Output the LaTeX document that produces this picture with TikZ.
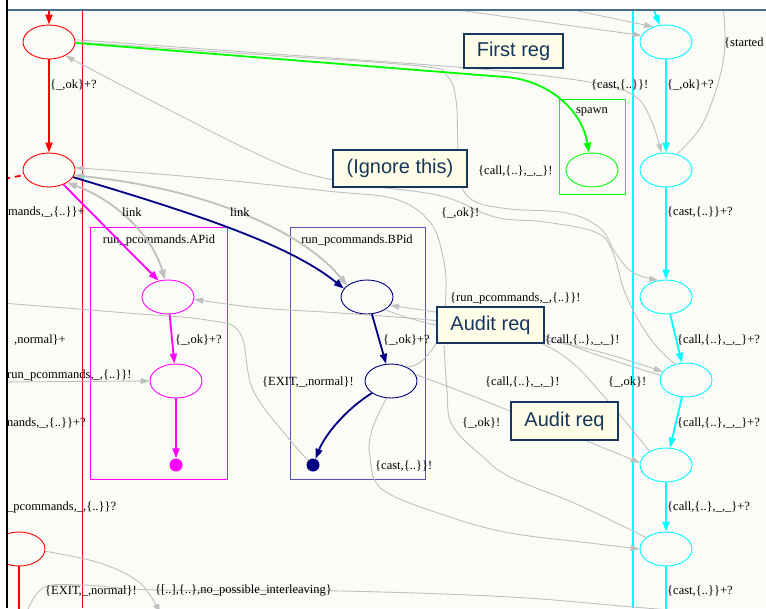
\documentclass[tikz,border=0pt]{standalone}
\usepackage{fontspec}
\setmainfont{Liberation Serif}
\newfontfamily\notefont{Liberation Sans}
\usetikzlibrary{shapes.geometric,arrows.meta}
\definecolor{gvgray}{RGB}{192,192,192}
\definecolor{gvnavy}{RGB}{0,0,128}
\definecolor{boxnavy}{RGB}{84,84,176}
\definecolor{gvgreen}{RGB}{0,255,0}
\definecolor{gvcyan}{RGB}{0,255,255}
\definecolor{gvmagenta}{RGB}{255,0,255}
\definecolor{gvred}{RGB}{255,0,0}
\definecolor{panel}{RGB}{251,252,248}
\definecolor{topline}{RGB}{78,108,140}
\definecolor{notefill}{RGB}{253,253,232}
\definecolor{noteink}{RGB}{22,54,92}
\tikzset{
  state/.style={ellipse, draw, line width=0.9pt, minimum width=52pt, minimum height=34pt, inner sep=0pt},
  enddot/.style={circle, fill, inner sep=0pt, minimum size=13pt},
  flow/.style={line width=1.8pt, -{Triangle[length=10pt,width=7pt]}},
  msg/.style={gvgray, line width=0.9pt, -{Triangle[length=9pt,width=6pt]}},
  msgline/.style={gvgray, line width=0.9pt},
  linkmsg/.style={gvgray, line width=1.8pt, {Triangle[length=10pt,width=7pt]}-{Triangle[length=10pt,width=7pt]}},
  lbl/.style={font=\fontsize{12.5}{14}\selectfont, inner sep=0pt, anchor=west},
  note/.style={draw=noteink, line width=1.2pt, fill=notefill, text=noteink,
    font=\notefont\fontsize{20}{24}\selectfont, inner sep=0pt},
  smoothpath/.style={smooth, tension=0.6},
}
\begin{document}
\begin{tikzpicture}[x=1pt,y=-1pt]
\fill[white] (0,0) rectangle (766,608);
\useasboundingbox (0,0) rectangle (766,608);

\begin{scope}
\clip (6,10) rectangle (766,608);
\fill[panel] (6,10) rectangle (766,608);

% swimlanes
\draw[gvred, line width=1pt] (82,10) -- (82,608);
\draw[gvcyan, line width=1.6pt] (633,10) -- (633,608);

% clusters
\draw[gvgreen, line width=0.9pt] (559,99) rectangle (625,194);
\node[lbl, anchor=center] at (592,112) {spawn};
\draw[gvmagenta, line width=0.9pt] (90,227) rectangle (227,479);
\node[lbl, anchor=center] at (159,240) {run\_pcommands.APid};
\draw[boxnavy, line width=1pt] (290,227) rectangle (425,479);
\node[lbl, anchor=center] at (357,240) {run\_pcommands.BPid};

% states
\node[state, draw=gvred] (r1) at (49,42) {};
\node[state, draw=gvred] (r2) at (49,170) {};
\node[state, draw=gvred] (r3) at (19,549) {};
\node[state, draw=gvgreen] (g1) at (592,170) {};
\node[state, draw=gvcyan] (c1) at (666,42) {};
\node[state, draw=gvcyan] (c2) at (666,170) {};
\node[state, draw=gvcyan] (c3) at (666,297) {};
\node[state, draw=gvcyan] (c4) at (686,380) {};
\node[state, draw=gvcyan] (c5) at (666,465) {};
\node[state, draw=gvcyan] (c6) at (666,549) {};
\node[state, draw=gvmagenta] (m1) at (168,297) {};
\node[state, draw=gvmagenta] (m2) at (176,381) {};
\node[enddot, fill=gvmagenta] (mdot) at (176,465) {};
\node[state, draw=gvnavy] (n1) at (367,297) {};
\node[state, draw=gvnavy] (n2) at (391,381) {};
\node[enddot, fill=gvnavy] (ndot) at (313,465) {};

% free ends
\coordinate (rtop) at (49,10);
\coordinate (ctop) at (654,10);
\coordinate (rdash) at (4,179);
\coordinate (rbot) at (19,612);
\coordinate (cbot) at (666,612);
\coordinate (topA) at (457,10);
\coordinate (topB) at (573,10);
\coordinate (topC) at (723,6);
\coordinate (leftA) at (2,303);
\coordinate (leftB) at (2,382);
\coordinate (botA) at (160,613);
\coordinate (botB) at (25,616);
\coordinate (botC) at (720,614);

% message edges
\draw[msg] (topA) -- (c1.165);
\draw[msg] (topB) -- (c1.130);
\draw[msg] plot[smoothpath] coordinates {(r1.5) (260,53) (430,65) (520,73) (600,84) (636,97) (652,122) (c2.105)};
\draw[msg] plot[smoothpath] coordinates {(r1.0) (250,54) (420,66) (447,76) (456,100) (458,150) (461,185) (476,202) (510,209) (567,213) (600,228) (615,252) (632,272) (c3.115)};
\draw[msg] plot[smoothpath] coordinates {(c4.125) (657,347) (640,323) (624,290) (612,250) (595,232) (545,222) (505,219) (483,213) (437,195) (333,180) (255,153) (r1.-40)};
\draw[msgline] plot[smoothpath] coordinates {(c2.55) (702,125) (719,80) (725,43) (topC)};
\draw[msg] plot[smoothpath] coordinates {(n2.40) (423,360) (441,333) (446,290) (443,257) (430,222) (395,199) (327,191) (193,177) (r2.5)};
\draw[msgline] plot[smoothpath] coordinates {(c6.150) (600,515) (567,500) (510,477) (483,457) (452,425) (447,390) (444,345)};
\draw[msg] plot[smoothpath] coordinates {(c4.170) (600,356) (547,337) (470,318) (n1.-20)};
\draw[msg] plot[smoothpath] coordinates {(n1.-35) (440,326) (547,341) (600,352) (c4.160)};
\draw[msg] plot[smoothpath] coordinates {(c5.140) (620,415) (600,392) (575,365) (545,345) (500,329) (430,320) (340,313) (260,308) (m1.-5)};
\draw[msg] plot[smoothpath] coordinates {(n2.15) (470,395) (520,415) (567,433) (c5.175)};
\draw[msg] plot[smoothpath] coordinates {(n2.-105) (372,430) (370,457) (383,490) (450,517) (510,533) (590,543) (c6.180)};
\draw[msgline] plot[smoothpath] coordinates {(ndot.135) (290,440) (253,390) (240,333) (207,320) (127,313) (leftA)};
\draw[msg] (leftB) -- (m2.180);
\draw[msg] plot[smoothpath] coordinates {(r3.-5) (100,563) (140,583) (botA)};
\draw[msgline] plot[smoothpath] coordinates {(botB) (43,588) (83,585) (157,590) (340,591) (510,597) (633,607) (botC)};

% link edges
\draw[linkmsg] (r2.-35) .. controls (115,200) and (152,235) .. (m1.100);
\draw[linkmsg] (r2.-12) .. controls (200,188) and (300,228) .. (n1.150);

% process flows
\draw[flow, gvred] (rtop) -- (r1);
\draw[flow, gvred] (r1) -- (r2);
\draw[gvred, line width=1.8pt, dash pattern=on 6pt off 5pt] (rdash) -- (r2);
\draw[gvred, line width=1.8pt] (r3) -- (rbot);
\draw[flow, gvgreen] (r1.-2) -- (505,77) .. controls (548,80) and (582,110) .. (g1.100);
\draw[flow, gvcyan] (ctop) -- (c1);
\draw[flow, gvcyan] (c1) -- (c2);
\draw[flow, gvcyan] (c2) -- (c3);
\draw[flow, gvcyan] (c3) -- (c4);
\draw[flow, gvcyan] (c4) -- (c5);
\draw[flow, gvcyan] (c5) -- (c6);
\draw[gvcyan, line width=1.8pt] (c6) -- (cbot);
\draw[flow, gvmagenta] (r2) -- (m1.120);
\draw[flow, gvmagenta] (m1) -- (m2);
\draw[flow, gvmagenta] (m2) -- (mdot);
\draw[flow, gvnavy] (r2) .. controls (200,215) and (290,245) .. (n1.160);
\draw[flow, gvnavy] (n1) -- (n2);
\draw[flow, gvnavy] (n2) .. controls (345,410) and (325,435) .. (ndot);

% labels
\node[lbl] at (50,85) {\{\_,ok\}+?};
\node[lbl] at (667,85) {\{\_,ok\}+?};
\node[lbl] at (591,85) {\{cast,\{..\}\}!};
\node[lbl] at (724,43) {\{started};
\node[lbl] at (478,171) {\{call,\{..\},\_,\_\}!};
\node[lbl] at (667,212) {\{cast,\{..\}\}+?};
\node[lbl] at (8,212) {mands,\_,\{..\}\}+};
\node[lbl] at (122,212) {link};
\node[lbl] at (230,212) {link};
\node[lbl] at (441,213) {\{\_,ok\}!};
\node[lbl] at (450,298) {\{run\_pcommands,\_,\{..\}\}!};
\node[lbl] at (14,340) {,normal\}+};
\node[lbl] at (175,340) {\{\_,ok\}+?};
\node[lbl] at (383,340) {\{\_,ok\}+?};
\node[lbl] at (545,340) {\{call,\{..\},\_,\_\}!};
\node[lbl] at (677,340) {\{call,\{..\},\_,\_\}+?};
\node[lbl] at (7,375) {run\_pcommands,\_,\{..\}\}!};
\node[lbl] at (262,382) {\{EXIT,\_,normal\}!};
\node[lbl] at (485,382) {\{call,\{..\},\_,\_\}!};
\node[lbl] at (608,382) {\{\_,ok\}!};
\node[lbl] at (7,423) {nands,\_,\{..\}\}+?};
\node[lbl] at (462,423) {\{\_,ok\}!};
\node[lbl] at (677,423) {\{call,\{..\},\_,\_\}+?};
\node[lbl] at (375,466) {\{cast,\{..\}\}!};
\node[lbl] at (7,507) {\_pcommands,\_,\{..\}\}?};
\node[lbl] at (667,507) {\{call,\{..\},\_,\_\}+?};
\node[lbl] at (45,591) {\{EXIT,\_,normal\}!};
\node[lbl] at (155,591) {\{[..],\{..\},no\_possible\_interleaving\}};
\node[lbl] at (667,591) {\{cast,\{..\}\}+?};

% annotations
\node[note, minimum width=99pt, minimum height=34pt] (first) at (513.5,51) {First reg};
\node[note, minimum width=134pt, minimum height=37pt] (ignore) at (400,168.5) {(Ignore this)};
\node[note, minimum width=107pt, minimum height=36pt] (audit1) at (490.5,325) {Audit req};
\node[note, minimum width=107pt, minimum height=38pt] (audit2) at (564.5,421) {Audit req};
\end{scope}

% frame
\draw[topline, line width=1.5pt] (6,10) -- (766,10);
\draw[black, line width=2pt] (6.5,0) -- (6.5,608);
\end{tikzpicture}
\end{document}
